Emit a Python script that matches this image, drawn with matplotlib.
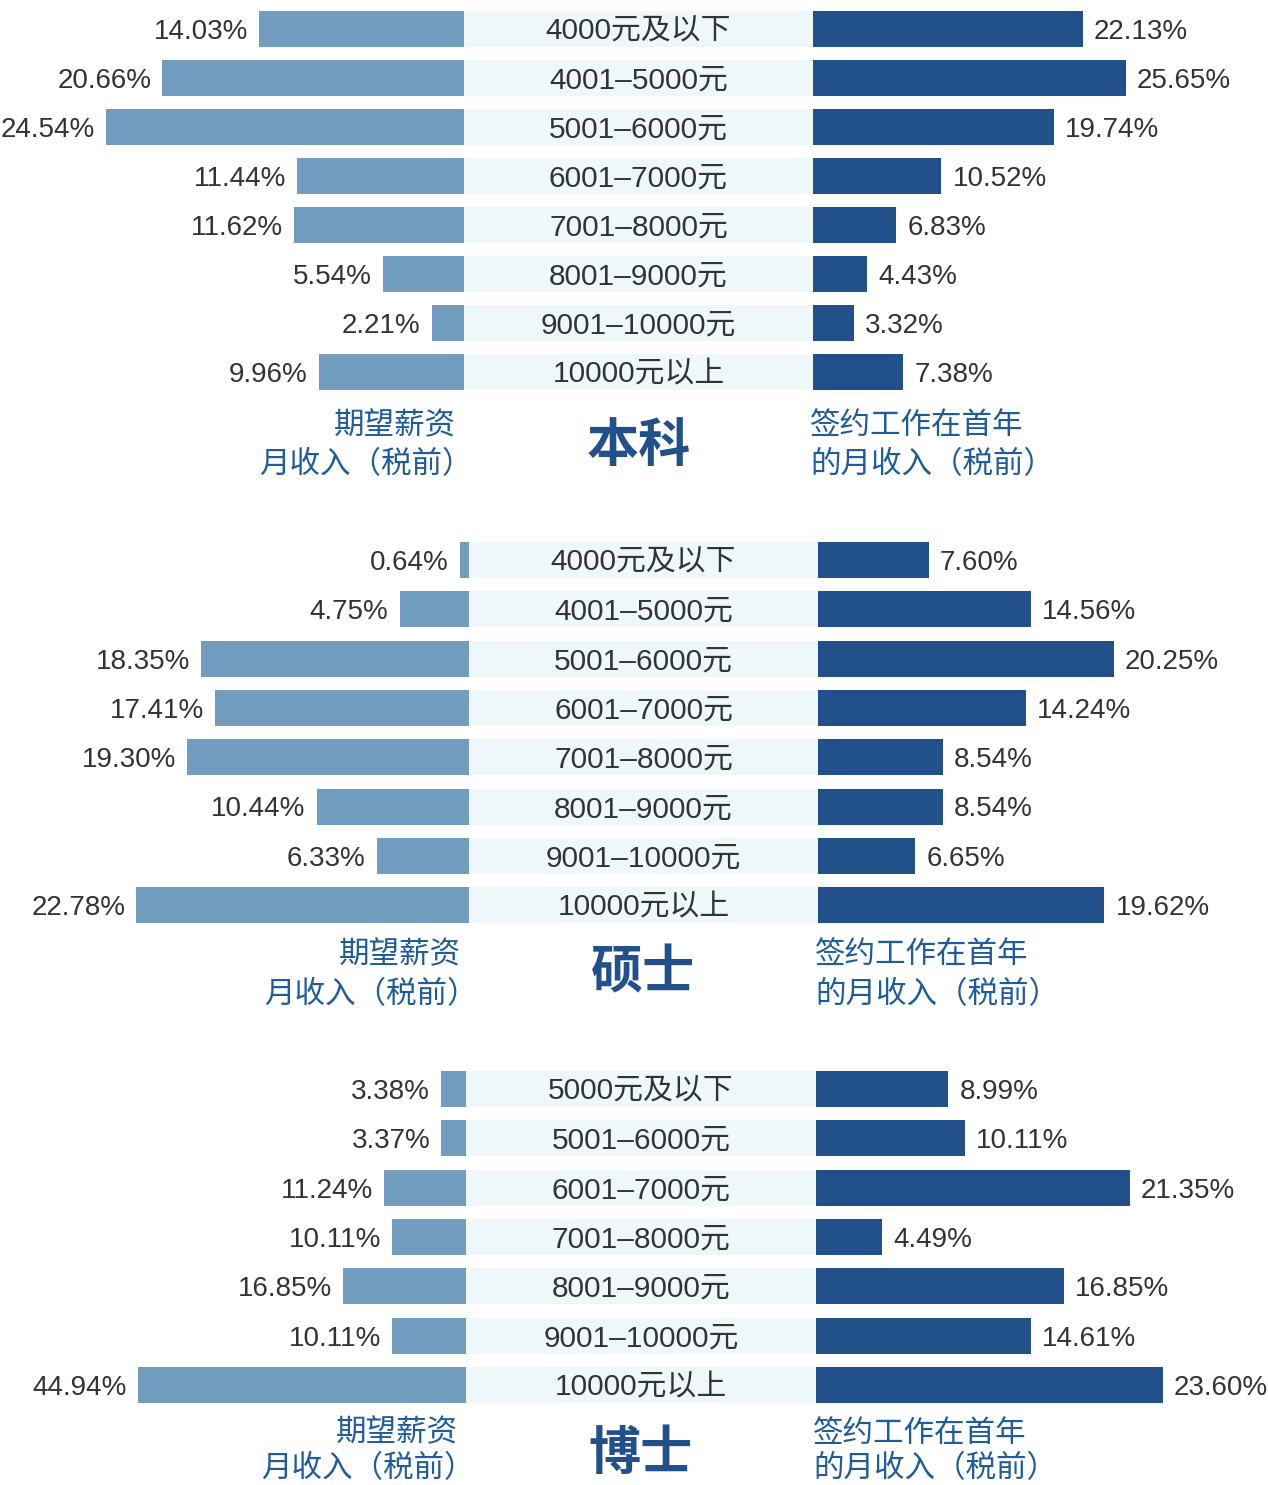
import matplotlib
matplotlib.use("Agg")
import matplotlib.pyplot as plt

# data
ben_cats = ["4000元及以下", "4001–5000元", "5001–6000元", "6001–7000元",
            "7001–8000元", "8001–9000元", "9001–10000元", "10000元以上"]
ben_expect = [14.03, 20.66, 24.54, 11.44, 11.62, 5.54, 2.21, 9.96]
ben_signed = [22.13, 25.65, 19.74, 10.52, 6.83, 4.43, 3.32, 7.38]

shuo_cats = ben_cats
shuo_expect = [0.64, 4.75, 18.35, 17.41, 19.30, 10.44, 6.33, 22.78]
shuo_signed = [7.60, 14.56, 20.25, 14.24, 8.54, 8.54, 6.65, 19.62]

bo_cats = ["5000元及以下", "5001–6000元", "6001–7000元", "7001–8000元",
           "8001–9000元", "9001–10000元", "10000元以上"]
bo_expect = [3.38, 3.37, 11.24, 10.11, 16.85, 10.11, 44.94]
bo_signed = [8.99, 10.11, 21.35, 4.49, 16.85, 14.61, 23.60]

titles = ["本科", "硕士", "博士"]
left_label = ["期望薪资", "月收入（税前）"]
right_label = ["签约工作在首年", "的月收入（税前）"]

W, H = 1268, 1485
LEFT_C = "#729DBF"
RIGHT_C = "#21508A"
BAND_C = "#EEF7FA"
TEXT_C = "#333333"
LABEL_C = "#1F5C9C"
FONT = ["Liberation Sans", "Noto Sans CJK SC"]
CJK = ["Noto Sans CJK SC", "Liberation Sans"]
PCT_FS = 20
CAT_FS = 21.5

fig = plt.figure(figsize=(W / 100, H / 100), dpi=100)


def add_ax(x0, x1, y0, y1):
    ax = fig.add_axes([x0 / W, 1 - y1 / H, (x1 - x0) / W, (y1 - y0) / H])
    ax.axis("off")
    return ax


# layout per panel: band left/right px, first row center, row spacing,
# px per percent left/right, label line y's, title y
panels = [
    dict(cats=ben_cats, exp=ben_expect, sig=ben_signed, bl=464, br=813,
         y0=29, dy=49.0, ls=14.6, rs=12.2, ly=(423, 462), ty=443),
    dict(cats=shuo_cats, exp=shuo_expect, sig=shuo_signed, bl=469, br=818,
         y0=560, dy=49.3, ls=14.6, rs=14.6, ly=(952, 992), ty=970),
    dict(cats=bo_cats, exp=bo_expect, sig=bo_signed, bl=466, br=816,
         y0=1089, dy=49.33, ls=7.3, rs=14.7, ly=(1430, 1466), ty=1450),
]

for p, title in zip(panels, titles):
    n = len(p["cats"])
    top = p["y0"] - p["dy"] / 2
    bot = p["y0"] + p["dy"] * (n - 0.5)
    rows = list(range(n))
    bh = 36 / p["dy"]

    # left: expected salary
    axl = add_ax(0, p["bl"], top, bot)
    axl.barh(rows, p["exp"], height=bh, color=LEFT_C)
    axl.set_xlim(p["bl"] / p["ls"], 0)
    axl.set_ylim(n - 0.5, -0.5)
    for i, v in enumerate(p["exp"]):
        axl.annotate(f"{v:.2f}%", xy=(v, i), xytext=(-8, -0.358 * PCT_FS),
                     textcoords="offset points", ha="right", va="baseline",
                     fontsize=PCT_FS, color=TEXT_C, family=FONT)

    # center band with categories
    axc = add_ax(p["bl"], p["br"], top, bot)
    axc.barh(rows, [1] * n, height=bh, color=BAND_C)
    axc.set_xlim(0, 1)
    axc.set_ylim(n - 0.5, -0.5)
    for i, c in enumerate(p["cats"]):
        axc.annotate(c, xy=(0.5, i), xytext=(0, -0.358 * CAT_FS),
                     textcoords="offset points", ha="center", va="baseline",
                     fontsize=CAT_FS, color=TEXT_C, family=FONT)

    # right: signed salary
    axr = add_ax(p["br"], W, top, bot)
    axr.barh(rows, p["sig"], height=bh, color=RIGHT_C)
    axr.set_xlim(0, (W - p["br"]) / p["rs"])
    axr.set_ylim(n - 0.5, -0.5)
    for i, v in enumerate(p["sig"]):
        axr.annotate(f"{v:.2f}%", xy=(v, i), xytext=(8, -0.358 * PCT_FS),
                     textcoords="offset points", ha="left", va="baseline",
                     fontsize=PCT_FS, color=TEXT_C, family=FONT)

    # bottom labels
    for line, y, dx in zip(left_label, p["ly"], (130, 205)):
        fig.text((p["bl"] - dx) / W, 1 - (y + 3) / H, line, ha="left", va="center",
                 fontsize=22, color=LABEL_C, family=CJK)
    for line, y in zip(right_label, p["ly"]):
        fig.text((p["br"] - 3) / W, 1 - (y + 3) / H, line, ha="left", va="center",
                 fontsize=22, color=LABEL_C, family=CJK)
    fig.text((p["bl"] + p["br"]) / 2 / W, 1 - (p["ty"] + 3) / H, title, ha="center",
             va="center", fontsize=37.5, fontweight="heavy", color=RIGHT_C, family=CJK)

fig.savefig("out.png", dpi=100)
